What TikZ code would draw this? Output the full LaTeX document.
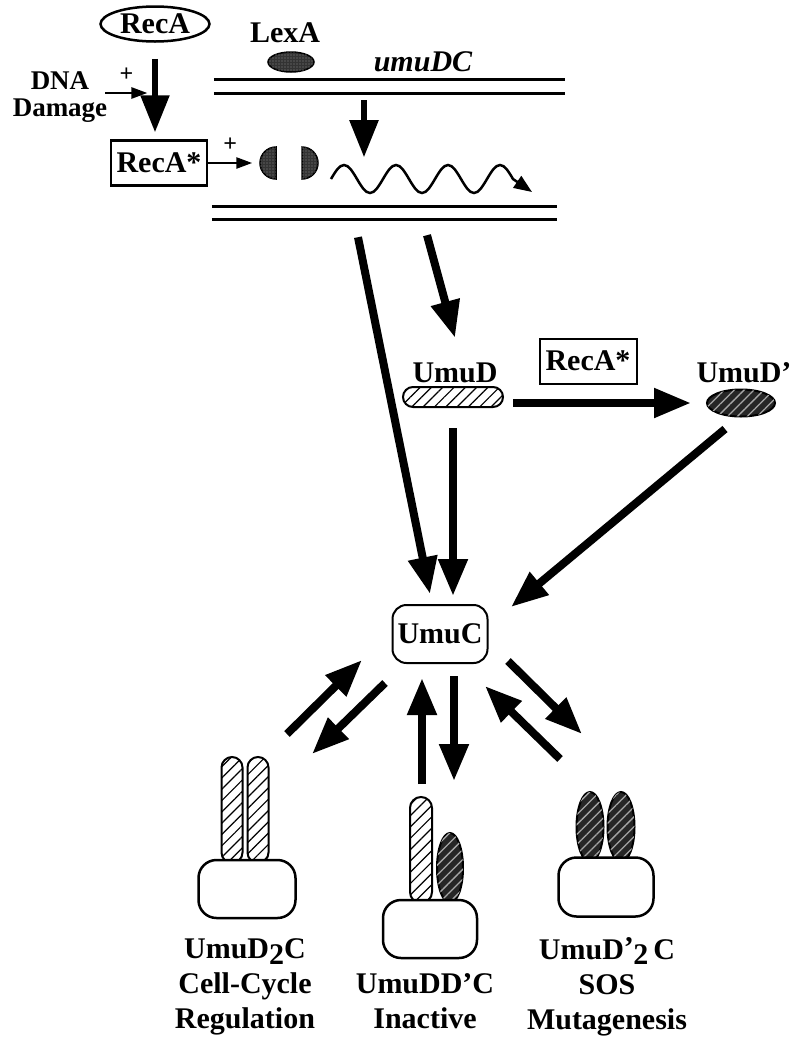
\documentclass[tikz,border=0pt]{standalone}
\usepackage{fontspec}
\setmainfont{Liberation Serif}
\usetikzlibrary{shapes.geometric,arrows.meta,patterns.meta}

\begin{document}
\begin{tikzpicture}[x=1pt,y=-1pt,
    every node/.style={font=\fontsize{30}{35}\selectfont\bfseries,inner sep=0pt},
    fat/.style={line width=8pt,-{Triangle[length=37pt,width=28pt]}},
    slim/.style={line width=2.5pt,-{Triangle[length=16pt,width=11pt]}},
    outline/.style={draw,line width=2.5pt},
    strand/.style={line width=3pt},
    light/.style={draw,line width=2pt,fill=white,
      postaction={pattern={Lines[angle=45,distance=8pt,line width=1.2pt]}}},
    dark/.style={draw,line width=2pt,fill=black!85,
      postaction={pattern={Lines[angle=45,distance=7pt,line width=1.3pt]},pattern color=black!35}},
    stipple/.style={draw,line width=1.5pt,fill=black!80,
      postaction={pattern={Dots[distance=3pt,radius=0.7pt]},pattern color=black!45}},
    plus/.style={font=\fontsize{24}{24}\selectfont\bfseries},
  ]
  \useasboundingbox (0,0) rectangle (793,1045);
  \begin{scope}
    % gene and repressor
    \node[ellipse,outline,minimum width=109pt,minimum height=35pt] (recA) at (155,24) {RecA};
    \node (lexA) at (285,33) {LexA};
    \node[ellipse,stipple,minimum width=46pt,minimum height=20pt] (lexAprot) at (291,62) {};
    \node[font=\fontsize{30}{35}\selectfont\bfseries\itshape] (umuDC) at (423,62) {umuDC};
    \node[align=center,font=\fontsize{27}{27}\selectfont\bfseries] (damage) at (60,97) {DNA\\Damage};
    \node[outline,minimum width=96pt,minimum height=45pt] (recAstar) at (159,163) {RecA*};
    \node[minimum width=351pt,minimum height=13pt] (topdna) at (389.5,86.5) {};
    \node[minimum width=345pt,minimum height=12pt] (botdna) at (384.5,213) {};
    \draw[strand] (topdna.north west) -- (topdna.north east) (topdna.south west) -- (topdna.south east);
    \draw[strand] (botdna.north west) -- (botdna.north east) (botdna.south west) -- (botdna.south east);

    \draw[fat,line width=5.5pt,shorten <=16pt,shorten >=7pt] (recA.south) -- (recA.south |- recAstar.north);
    \draw[slim] ([xshift=-2pt,yshift=4pt]damage.east) -- ++(42,0) node[midway,above=10pt,plus] {+};
    \draw[slim] (recAstar.east) -- ++(44,0) node[midway,above=10pt,plus] {+};
    \draw[stipple] (276,179) arc[start angle=90,end angle=270,radius=16] -- cycle;
    \draw[stipple] (302,147) arc[start angle=270,end angle=450,radius=16] -- cycle;
    \draw[fat,line width=5.5pt] ([xshift=-25.5pt,yshift=-7pt]topdna.south) -- ++(0,57);
    \draw[line width=2.5pt,-{Triangle[length=18pt,width=14pt]}] (331,179)
      sin (344,165) cos (357,179) sin (370,193) cos (383,179)
      sin (396,165) cos (409,179) sin (422,193) cos (435,179)
      sin (448,165) cos (461,179) sin (474,193) cos (487,179)
      sin (500,165) cos (513,179) -- (532,192);

    % UmuD processing
    \node[rectangle,rounded corners=10pt,light,minimum width=100pt,minimum height=20pt] (umuD) at (453,397) {};
    \node (umuDlab) at (455,373) {UmuD};
    \node[outline,line width=2pt,minimum width=97pt,minimum height=45pt] (recAstar2) at (588,361) {RecA*};
    \node[ellipse,dark,minimum width=68pt,minimum height=27pt] (umuDp) at (741,403) {};
    \node (umuDplab) at (744,373) {UmuD'};
    \node[draw,line width=2pt,rounded corners=14pt,minimum width=95pt,minimum height=58pt] (umuC) at (440,634) {UmuC};

    \draw[fat] ([xshift=-26.5pt,yshift=-18pt]botdna.south) -- ([xshift=-10pt,yshift=10pt]umuC.north);
    \draw[fat] ([xshift=42.5pt,yshift=-16pt]botdna.south) -- ([yshift=25pt]umuDlab.north);
    \draw[fat,shorten <=9pt,shorten >=15pt] (umuD.east |- umuDp.west) -- (umuDp.west);
    \draw[fat,shorten <=20pt,shorten >=8pt] (umuD.south) -- (umuD.south |- umuC.north);
    \draw[fat] ([xshift=-16pt,yshift=-11.5pt]umuDp.south) -- ([xshift=22.5pt,yshift=-3pt]umuC.north east);

    % complexes
    \draw[fat] ([xshift=-153pt,yshift=-70pt]umuC.south) -- ([xshift=-78pt,yshift=4pt]umuC.south);
    \draw[fat] ([xshift=-55pt,yshift=-19pt]umuC.south) -- ([xshift=-128pt,yshift=-90pt]umuC.south);
    \draw[fat] ([xshift=-18pt,yshift=-120pt]umuC.south) -- ([xshift=-18pt,yshift=-14pt]umuC.south);
    \draw[fat] ([xshift=14pt,yshift=-12pt]umuC.south) -- ([xshift=14pt,yshift=-117pt]umuC.south);
    \draw[fat] ([xshift=68pt,yshift=3pt]umuC.south) -- ([xshift=142pt,yshift=-70pt]umuC.south);
    \draw[fat] ([xshift=120pt,yshift=-95pt]umuC.south) -- ([xshift=45pt,yshift=-22pt]umuC.south);

    \node[rectangle,rounded corners=10.5pt,light,minimum width=21pt,minimum height=106pt] (dL1) at (232,810) {};
    \node[rectangle,rounded corners=10.5pt,light,minimum width=21pt,minimum height=106pt] (dL2) at (258,810) {};
    \node[outline,fill=white,rounded corners=18pt,minimum width=97pt,minimum height=58pt] (cL) at (247,889) {};
    \node[rectangle,rounded corners=11pt,light,minimum width=22pt,minimum height=106pt] (dM1) at (421,850) {};
    \node[ellipse,dark,minimum width=26pt,minimum height=70pt] (dM2) at (450,868) {};
    \node[outline,fill=white,rounded corners=18pt,minimum width=94pt,minimum height=58pt] (cM) at (430,929) {};
    \node[ellipse,dark,minimum width=27pt,minimum height=70pt] (dR1) at (590,827) {};
    \node[ellipse,dark,minimum width=27pt,minimum height=70pt] (dR2) at (621,827) {};
    \node[outline,fill=white,rounded corners=18pt,minimum width=95pt,minimum height=59pt] (cR) at (606,887) {};

    \node[align=center] (labL) at (245,987) {UmuD\raisebox{-0.4ex}{2}C\\Cell-Cycle\\Regulation};
    \node[align=center] (labM) at (425,1001) {UmuDD'C\\Inactive};
    \node[align=center] (labR) at (607,987) {UmuD\raisebox{0.1ex}{'}\kern-0.02em\raisebox{-0.4ex}{2}\,C\\SOS\\Mutagenesis};
  \end{scope}
\end{tikzpicture}
\end{document}
